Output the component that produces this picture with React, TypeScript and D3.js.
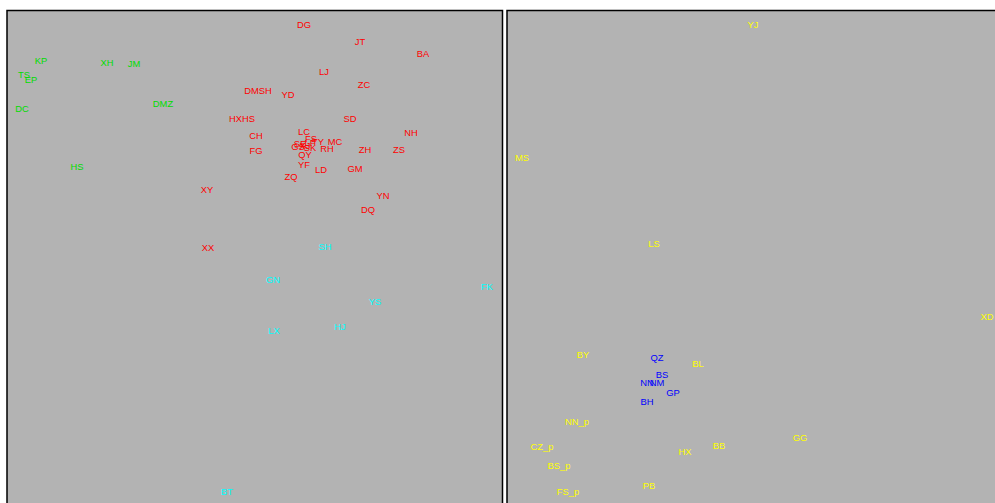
import React from "react";
import * as d3 from "d3";

// Left panel: labels, coordinates (panel units), groups
const leftNames = [
  "KP", "XH", "JM", "TS", "EP", "DC", "DMZ", "HS",
  "DG", "JT", "BA", "LJ", "ZC", "DMSH", "YD", "HXHS", "SD", "CH", "NH", "LC", "MC", "FG", "RH", "ZH", "ZS", "QY", "YF", "LD", "GM", "ZQ", "XY", "YN", "DQ", "XX",
  "FS", "SE", "LF", "TY", "GS", "SK", "XJ",
  "SH", "GN", "FK", "YS", "HJ", "LX", "BT",
];
const leftX = [
  34, 100, 127, 17, 24, 15, 156, 70,
  297, 353, 416, 317, 357, 251, 281, 235, 343, 249, 404, 297, 328, 249, 320, 358, 392, 298, 297, 314, 348, 284, 200, 376, 361, 201,
  304, 293, 303, 311, 291, 303, 298,
  318, 266, 480, 368, 333, 267, 220,
];
const leftY = [
  50, 52, 53, 64, 69, 98, 93, 156,
  14, 31, 43, 61, 74, 80, 84, 108, 108, 125, 122, 121, 131, 140, 138, 139, 139, 144, 154, 159, 158, 166, 179, 185, 199, 237,
  128, 133, 132, 131, 136, 137, 135,
  236, 269, 276, 291, 316, 320, 481,
];
const leftGroup = [
  "g", "g", "g", "g", "g", "g", "g", "g",
  "r", "r", "r", "r", "r", "r", "r", "r", "r", "r", "r", "r", "r", "r", "r", "r", "r", "r", "r", "r", "r", "r", "r", "r", "r", "r",
  "r", "r", "r", "r", "r", "r", "r",
  "c", "c", "c", "c", "c", "c", "c",
];

// Right panel
const rightNames = ["YJ", "MS", "LS", "XD", "BY", "BL", "NN_p", "CZ_p", "BS_p", "FS_p", "PB", "HX", "BB", "GG", "QZ", "BS", "NN", "NM", "GP", "BH"];
const rightX = [246, 15, 147, 480, 76, 191, 70, 35, 52, 61, 142, 178, 212, 293, 150, 155, 140, 150, 166, 140];
const rightY = [14, 147, 233, 306, 344, 353, 411, 436, 455, 481, 475, 441, 435, 427, 347, 364, 372, 372, 382, 391];
const rightGroup = ["y", "y", "y", "y", "y", "y", "y", "y", "y", "y", "y", "y", "y", "y", "b", "b", "b", "b", "b", "b"];

const groupColors: Record<string, string> = {
  g: "#00dd00",
  r: "#ff0000",
  c: "#00ffff",
  y: "#ffff00",
  b: "#0000ff",
};

const W = 995;
const H = 503;

function Panel({ left, names, xs, ys, groups }: { left: number; names: string[]; xs: number[]; ys: number[]; groups: string[] }) {
  const pw = 495.5;
  const top = 10.5;
  const x = d3.scaleLinear().domain([0, 496]).range([left, left + 496]);
  const y = d3.scaleLinear().domain([0, 500]).range([10, 510]);
  return (
    <g>
      <rect x={left} y={top} width={pw} height={520} fill="#b3b3b3" stroke="#000" strokeWidth={1.5} />
      {names.map((n, i) => (
        <text
          key={n + i}
          x={x(xs[i])}
          y={y(ys[i])}
          dy="0.42em"
          textAnchor="middle"
          fill={groupColors[groups[i]]}
          fontSize={9.4}
          fontFamily="'Liberation Sans', Arial, sans-serif"
        >
          {n}
        </text>
      ))}
    </g>
  );
}

export default function App() {
  return (
    <svg width={W} height={H} style={{ position: "absolute", left: 0, top: 0, background: "#fff" }}>
      <Panel left={7} names={leftNames} xs={leftX} ys={leftY} groups={leftGroup} />
      <Panel left={507} names={rightNames} xs={rightX} ys={rightY} groups={rightGroup} />
    </svg>
  );
}
